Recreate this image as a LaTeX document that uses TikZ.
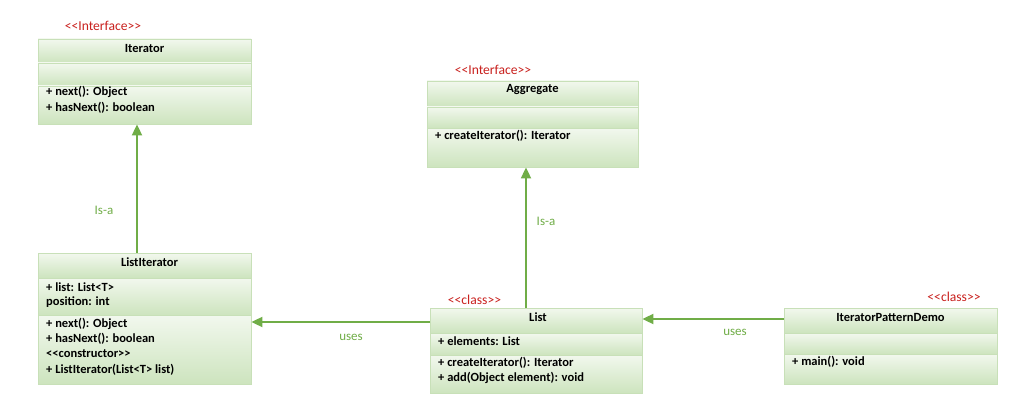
\documentclass[tikz,border=0pt]{standalone}
\usepackage{fontspec}
\setmainfont{Carlito}[Ligatures=TeXOff]
\usetikzlibrary{arrows.meta}
\definecolor{gtop}{HTML}{F2F8EE}
\definecolor{gbot}{HTML}{CDE4BE}
\definecolor{boxline}{HTML}{C8E0B8}
\definecolor{arrgreen}{HTML}{70AD47}
\definecolor{stereo}{HTML}{C9211E}
\tikzset{
  part/.style={draw=boxline, line width=0.8pt, top color=gtop, bottom color=gbot},
  classbox/.style={draw=none, inner sep=0pt, anchor=north west},
  title/.style={font=\fontsize{12.5}{14}\selectfont\bfseries, inner sep=0pt},
  member/.style={font=\fontsize{12.5}{14}\selectfont\bfseries, inner sep=0pt, anchor=west},
  stereotype/.style={font=\fontsize{13.6}{15}\selectfont, text=stereo, inner sep=0pt},
  arr/.style={draw=arrgreen, line width=1.8pt, -{Triangle[length=11pt,width=10pt]}},
  elabel/.style={font=\fontsize{13}{15}\selectfont, text=arrgreen, inner sep=0pt}
}
\newcommand{\umlclass}[7]{%
  % #1 name, #2 x1, #3 x2, #4 y top, #5 header bottom, #6 attr bottom, #7 bottom
  \path[part] (#2,#4) rectangle (#3,#5);
  \path[part] (#2,#5) rectangle (#3,#6);
  \path[part] (#2,#6) rectangle (#3,#7);
  \node[classbox, minimum width=#3-#2, minimum height=#7-#4] (#1) at (#2,#4) {};
}
\begin{document}
\begin{tikzpicture}[x=1pt,y=-1pt]
\useasboundingbox[fill=white] (0,0) rectangle (1024,417);

% Iterator
\umlclass{iter}{38}{251}{39}{63}{86}{124}
\node[title] (iterT) at (144.5,48) {Iterator};
\node[member] (iterM1) at (46,92) {+ next(): Object};
\node[member] (iterM2) at (46,108) {+ hasNext(): boolean};
\node[stereotype] (iterS) at (103,26) {<<Interface>>};

% Aggregate
\umlclass{aggr}{427}{638}{81}{107}{128}{167}
\node[title] (aggrT) at (532.5,90) {Aggregate};
\node[member] (aggrM1) at (435,136) {+ createIterator(): Iterator};
\node[stereotype] (aggrS) at (493,70) {<<Interface>>};

% ListIterator
\umlclass{litr}{38}{251}{253}{278}{315}{384}
\node[title] (litrT) at (149.5,262) {ListIterator};
\node[member] (litrA1) at (46,287) {+ list: List<T>};
\node[member] (litrA2) at (46,302) {position: int};
\node[member] (litrM1) at (46,324) {+ next(): Object};
\node[member] (litrM2) at (46,339) {+ hasNext(): boolean};
\node[member] (litrM3) at (46,354) {<<constructor>>};
\node[member] (litrM4) at (46,370) {+ ListIterator(List<T> list)};

% List
\umlclass{list}{430}{642}{308}{333}{355}{393}
\node[title] (listT) at (538,317) {List};
\node[member] (listA1) at (438,341) {+ elements: List};
\node[member] (listM1) at (438,363) {+ createIterator(): Iterator};
\node[member] (listM2) at (438,378) {+ add(Object element): void};
\node[stereotype] (listS) at (474.5,300) {<<class>>};

% IteratorPatternDemo
\umlclass{demo}{784}{997}{308}{333}{354}{384}
\node[title] (demoT) at (890.5,317) {IteratorPatternDemo};
\node[member] (demoM1) at (792,362) {+ main(): void};
\node[stereotype] (demoS) at (954,297) {<<class>>};

% Connectors
\coordinate (c1) at (137,253);
\draw[arr] (c1) -- (c1 |- iter.south);
\node[elabel] (l1) at (104,210) {Is-a};

\coordinate (c2) at (526,308);
\draw[arr] (c2) -- (c2 |- aggr.south);
\node[elabel] (l2) at (546,221) {Is-a};

\coordinate (c3) at (430,322);
\draw[arr] (c3) -- (litr.east |- c3);
\node[elabel] (l3) at (351,337) {uses};

\coordinate (c4) at (784,319);
\draw[arr] (c4) -- (list.east |- c4);
\node[elabel] (l4) at (735,332) {uses};
\end{tikzpicture}
\end{document}
